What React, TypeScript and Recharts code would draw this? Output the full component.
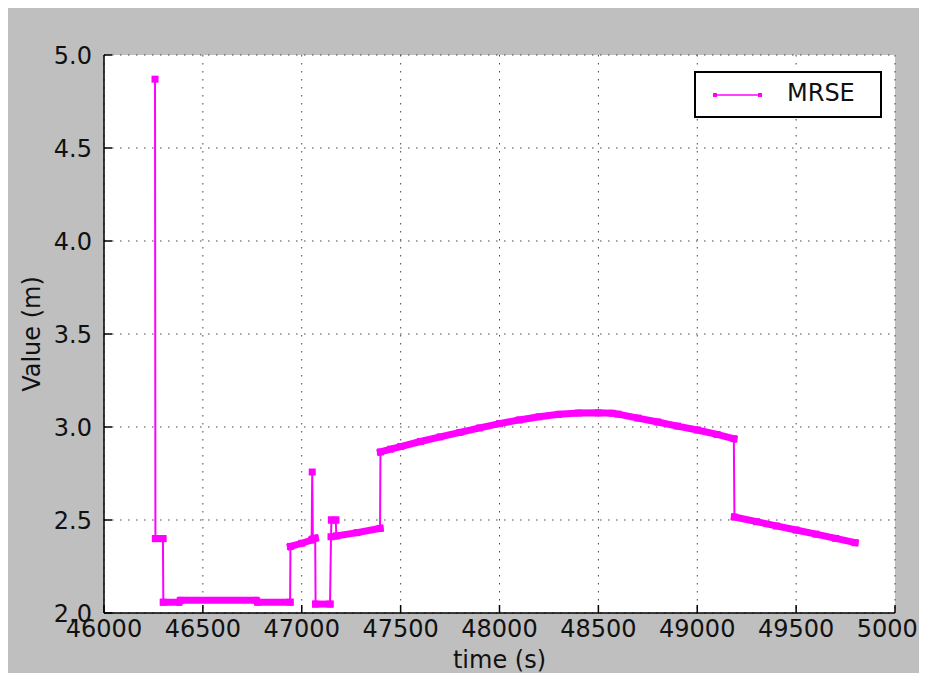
import React from 'react';
import { LineChart, Line, XAxis, YAxis, CartesianGrid, Label } from 'recharts';

type Pt = [number, number];

// time (s), value (m), one array per visible run of samples
const spikeStart: Pt[] = [[46258, 4.87]];
const shelfA: Pt[] = [[46260, 2.4], [46298, 2.4]];
const floorA: Pt[] = [
  [46300, 2.058], [46380, 2.058], [46386, 2.068], [46770, 2.068], [46776, 2.058], [46941, 2.058],
];
const rampA: Pt[] = [[46943, 2.358], [47000, 2.375], [47050, 2.392]];
const spikeMid: Pt[] = [[47053, 2.758]];
const rampB: Pt[] = [[47056, 2.398], [47068, 2.402]];
const floorB: Pt[] = [[47070, 2.048], [47143, 2.048]];
const stepLow: Pt[] = [[47148, 2.41]];
const stepHigh: Pt[] = [[47150, 2.5], [47172, 2.5]];
const rampC: Pt[] = [[47175, 2.414], [47280, 2.432], [47396, 2.455]];
const arc: Pt[] = [
  [47398, 2.866], [47450, 2.881], [47500, 2.895], [47600, 2.922], [47700, 2.947],
  [47800, 2.971], [47900, 2.995], [48000, 3.018], [48100, 3.038], [48200, 3.055],
  [48300, 3.068], [48400, 3.075], [48500, 3.076], [48570, 3.074], [48600, 3.069],
  [48700, 3.048], [48800, 3.027], [48900, 3.005], [49000, 2.984], [49100, 2.96],
  [49185, 2.937],
];
const tail: Pt[] = [
  [49188, 2.516], [49300, 2.491], [49400, 2.468], [49500, 2.446], [49600, 2.424],
  [49700, 2.401], [49798, 2.378],
];

const xTicks = [46000, 46500, 47000, 47500, 48000, 48500, 49000, 49500, 50000];
const yTicks = [2.0, 2.5, 3.0, 3.5, 4.0, 4.5, 5.0];

const segments: Pt[][] = [
  spikeStart, shelfA, floorA, rampA, spikeMid, rampB, floorB, stepLow, stepHigh, rampC, arc, tail,
];

const toRows = (pts: Pt[]) => pts.map(([t, v]) => ({ t, v }));
const trace = toRows(segments.flat());

const MAGENTA = '#ff00ff';
const INK = '#111';
const tickLine = { stroke: '#000', strokeWidth: 1.5 };

const Square = (props: any) => {
  const { cx, cy, index } = props;
  if (cx == null || cy == null) return <g key={`sq-${index}`} />;
  return <rect key={`sq-${index}`} x={cx - 3.5} y={cy - 3.5} width={7} height={7} fill={MAGENTA} />;
};

const App: React.FC = () => {
  return (
    <div
      style={{
        position: 'relative',
        width: 919,
        height: 665,
        background: '#bfbfbf',
        fontFamily: '"DejaVu Sans", sans-serif',
      }}
    >
      <LineChart width={919} height={665} margin={{ top: 47, right: 32, bottom: 0, left: 0 }}>
        <CartesianGrid fill="#fff" stroke="#444" strokeDasharray="1.5 6.5" />
        <XAxis
          dataKey="t"
          type="number"
          domain={[46000, 50000]}
          ticks={xTicks}
          allowDataOverflow
          height={60}
          stroke="#000"
          strokeWidth={1.5}
          tickLine={tickLine}
          tickSize={-8}
          tickMargin={15}
          tick={{ fill: INK, fontSize: 24 }}
        >
          <Label value="time (s)" position="insideBottom" offset={5} style={{ fontSize: 24, fill: INK }} />
        </XAxis>
        <XAxis
          xAxisId="top"
          orientation="top"
          dataKey="t"
          type="number"
          domain={[46000, 50000]}
          ticks={xTicks}
          height={0}
          stroke="#000"
          strokeWidth={1.5}
          tickLine={tickLine}
          tickSize={-8}
          tickFormatter={() => ''}
        >
          <Label value="MRSE-Mielec" position="top" offset={10} style={{ fontSize: 29, fill: INK }} />
        </XAxis>
        <YAxis
          type="number"
          domain={[2, 5]}
          ticks={yTicks}
          allowDataOverflow
          width={96}
          stroke="#000"
          strokeWidth={1.5}
          tickLine={tickLine}
          tickSize={-8}
          tickMargin={20}
          tick={{ fill: INK, fontSize: 24 }}
          tickFormatter={(v: number) => v.toFixed(1)}
        >
          <Label
            content={({ viewBox }: any) => {
              const cx = viewBox.x + 24;
              const cy = viewBox.y + viewBox.height / 2;
              return (
                <text
                  x={cx}
                  y={cy}
                  transform={`rotate(-90 ${cx} ${cy})`}
                  textAnchor="middle"
                  dominantBaseline="central"
                  fontSize={24}
                  fill={INK}
                >
                  Value (m)
                </text>
              );
            }}
          />
        </YAxis>
        <YAxis
          yAxisId="right"
          orientation="right"
          type="number"
          domain={[2, 5]}
          ticks={yTicks}
          width={0}
          stroke="#000"
          strokeWidth={1.5}
          tickLine={tickLine}
          tickSize={-8}
          tickFormatter={() => ''}
        />
        <Line
          data={trace}
          dataKey="v"
          type="linear"
          stroke={MAGENTA}
          strokeWidth={2}
          dot={false}
          activeDot={false}
          isAnimationActive={false}
        />
        {segments.map((seg, i) => (
          <Line
            key={`seg-${i}`}
            data={toRows(seg)}
            dataKey="v"
            type="linear"
            stroke={MAGENTA}
            strokeWidth={7}
            strokeLinecap="square"
            dot={Square}
            activeDot={false}
            isAnimationActive={false}
          />
        ))}
      </LineChart>
      <div
        style={{
          position: 'absolute',
          left: 686,
          top: 63,
          width: 184,
          height: 43,
          background: '#fff',
          border: '2px solid #000',
        }}
      >
        <svg width={60} height={43} style={{ position: 'absolute', left: 17, top: 0 }}>
          <line x1={2} y1={22} x2={47} y2={22} stroke={MAGENTA} strokeWidth={1.5} />
          <rect x={0} y={20} width={4} height={4} fill={MAGENTA} />
          <rect x={45} y={20} width={4} height={4} fill={MAGENTA} />
        </svg>
        <span
          style={{
            position: 'absolute',
            left: 91,
            top: 5,
            fontSize: 24,
            lineHeight: '30px',
            color: INK,
          }}
        >
          MRSE
        </span>
      </div>
    </div>
  );
};

export default App;
